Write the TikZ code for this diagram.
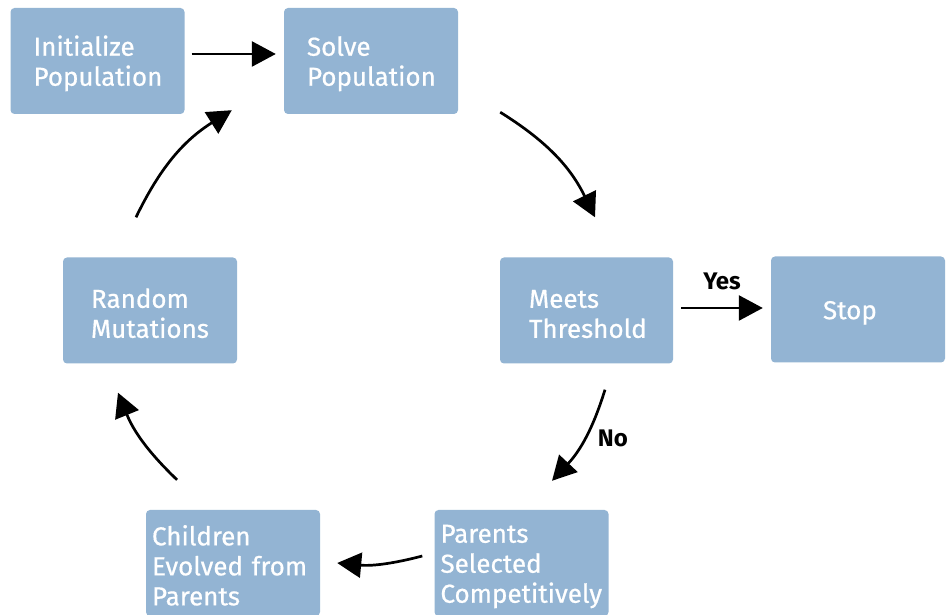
\documentclass[tikz,border=0pt]{standalone}
\usepackage{fontspec}
\setmainfont{Fira Sans}
\newfontfamily\boxfont{Fira Sans}[FakeBold=0.6]
\usetikzlibrary{arrows.meta}
\definecolor{boxblue}{RGB}{147,180,211}

\begin{document}
\begin{tikzpicture}[x=1pt, y=1pt, >={Triangle[length=24pt, width=25pt]},
        box/.style={fill=boxblue, rounded corners=4pt, minimum height=106pt, inner ysep=0pt,
                text=white, align=left, font=\boxfont\fontsize{26}{30}\selectfont,
                execute at begin node={\rule{0pt}{25pt}}},
        arr/.style={line width=2.7pt, ->},
        lbl/.style={inner sep=0pt, font=\fontsize{24}{28}\bfseries}]
        \useasboundingbox (0, 0) rectangle (948, 615);
        \node[box, inner xsep=23pt, text width=128pt] (init) at (97.5, 554) {Initialize\\Population};
        \node[box, inner xsep=23pt, text width=128pt] (solve) at (371, 554) {Solve\\Population};
        \node[box, inner xsep=29pt, text width=115pt] (meets) at (586.5, 304.5) {Meets\\Threshold};
        \node[box, inner xsep=52pt, text width=70pt] (stop) at (858, 305.5) {Stop};
        \node[box, inner xsep=28pt, text width=118pt] (random) at (150, 304.5) {Random\\Mutations};
        \node[box, inner xsep=6pt, text width=162pt] (children) at (233, 52) {Children\\Evolved from\\Parents};
        \node[box, inner xsep=6pt, text width=162pt] (parents) at (521.5, 52) {Parents\\Selected\\Competitively};
        \draw[arr] ([shift={(7, 7)}]init.east) -- ([shift={(-8, 7)}]solve.west);
        \draw[arr] ([shift={(42, 2)}]solve.south east) to[bend left=16] ([shift={(8.5, 40)}]meets.north);
        \draw[arr] ([shift={(8, 2.5)}]meets.east) -- node[lbl, midway, above=17pt] {Yes} ([shift={(-8, 1.5)}]stop.west);
        \draw[arr] ([shift={(18.5, -26)}]meets.south) to[bend left=13] node[lbl, midway, right=12pt] {No} ([shift={(30.5, 29)}]parents.north);
        \draw[arr] ([shift={(-12, 7)}]parents.west) to[bend left=10] ([shift={(17, 0)}]children.east);
        \draw[arr] ([shift={(-56, 30)}]children.north) to[bend left=12] ([shift={(-32, -29)}]random.south);
        \draw[arr] ([shift={(-14, 40)}]random.north) to[bend left=16] ([shift={(-52, 4)}]solve.south west);
\end{tikzpicture}
\end{document}
